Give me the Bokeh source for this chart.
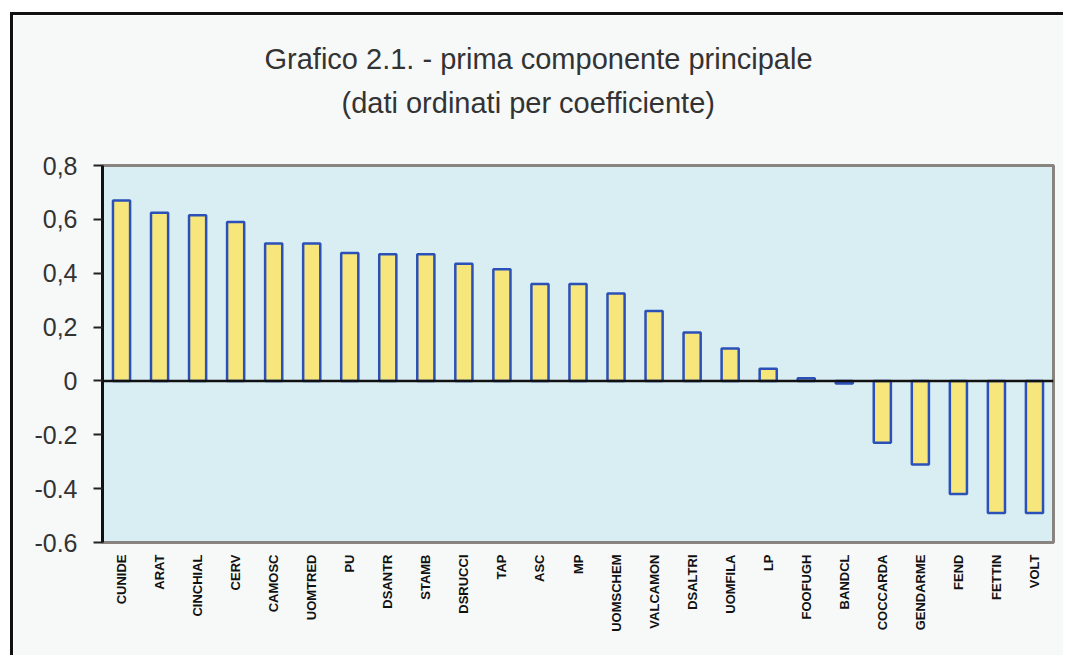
from bokeh.plotting import figure
from bokeh.models import FactorRange, Title, FixedTicker, CustomJSTickFormatter, Span, ColumnDataSource
from bokeh.embed import file_html
from bokeh.resources import INLINE

categories = ["CUNIDE", "ARAT", "CINCHIAL", "CERV", "CAMOSC", "UOMTRED", "PU", "DSANTR",
              "STAMB", "DSRUCCI", "TAP", "ASC", "MP", "UOMSCHEM", "VALCAMON", "DSALTRI",
              "UOMFILA", "LP", "FOOFUGH", "BANDCL", "COCCARDA", "GENDARME", "FEND", "FETTIN", "VOLT"]
values = [0.67, 0.625, 0.615, 0.59, 0.51, 0.51, 0.475, 0.47, 0.47, 0.435, 0.415, 0.36, 0.36,
          0.325, 0.26, 0.18, 0.12, 0.045, 0.01, -0.01, -0.23, -0.31, -0.42, -0.49, -0.49]
y_ticks = [-0.6, -0.4, -0.2, 0, 0.2, 0.4, 0.6, 0.8]
title_lines = ["Grafico 2.1. - prima componente principale", "(dati ordinati per coefficiente)"]
title_offsets = [162, 239]

src = ColumnDataSource(dict(cat=categories, val=values))

p = figure(width=1053, height=643, x_range=FactorRange(*categories, range_padding=0),
           y_range=(-0.6, 0.8), output_backend="svg", toolbar_location=None,
           min_border_left=89, min_border_right=13, min_border_top=150, min_border_bottom=116,
           background_fill_color="#d9eef3", border_fill_color="#f7f9f9",
           styles={"border-left": "3px solid #111", "border-top": "3px solid #111",
                   "margin-left": "10px", "margin-top": "12px"})

p.add_layout(Title(text=" ", text_font_size="27px"), "above")
for line, off in reversed(list(zip(title_lines, title_offsets))):
    p.add_layout(Title(text=line, align="left", offset=off, text_font="Liberation Sans",
                       text_font_size="29px", text_font_style="normal", text_color="#333333"), "above")

p.vbar(x="cat", top="val", bottom=0, width=0.45, source=src,
       fill_color="#f7e67c", line_color="#2b50b8", line_width=2.5)

p.add_layout(Span(location=0, dimension="width", line_color="#111111", line_width=2.5))

p.grid.visible = False
p.outline_line_color = "#8a8480"
p.outline_line_width = 3

p.yaxis.ticker = FixedTicker(ticks=y_ticks)
p.yaxis.formatter = CustomJSTickFormatter(code="""
if (Math.abs(tick) < 1e-9) return "0";
var s = tick.toFixed(1);
if (tick > 0) s = s.replace('.', ',');
return s;
""")
p.yaxis.major_label_text_font = "Liberation Sans"
p.yaxis.major_label_text_font_size = "25px"
p.yaxis.major_label_text_color = "#333333"
p.yaxis.axis_line_color = "#111111"
p.yaxis.axis_line_width = 3
p.yaxis.major_tick_line_color = "#222222"
p.yaxis.major_tick_line_width = 2
p.yaxis.major_tick_out = 9
p.yaxis.major_tick_in = 0
p.yaxis.minor_tick_line_color = None
p.yaxis.major_label_standoff = 16

p.xaxis.major_label_orientation = 1.5708
p.xaxis.major_label_text_font = "Liberation Sans"
p.xaxis.major_label_text_font_style = "bold"
p.xaxis.major_label_text_font_size = "13px"
p.xaxis.major_label_text_color = "#111111"
p.xaxis.axis_line_color = "#8a8480"
p.xaxis.axis_line_width = 3
p.xaxis.major_tick_line_color = None
p.xaxis.major_label_standoff = 6

open("out.html", "w").write(file_html(p, INLINE))
